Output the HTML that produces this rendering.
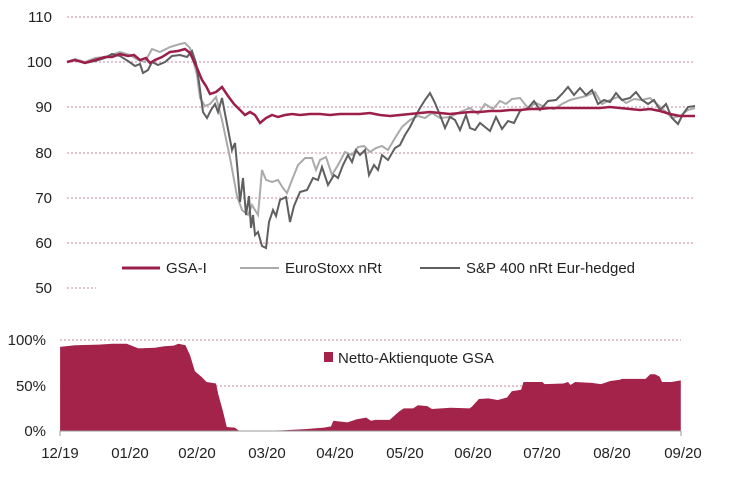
<!DOCTYPE html>
<html><head><meta charset="utf-8"><style>
body{margin:0;background:#fff;width:744px;height:478px;overflow:hidden;font-family:"Liberation Sans",Arial,sans-serif}
svg text{font-family:"Liberation Sans",Arial,sans-serif;font-size:15px;fill:#222}
</style></head><body>
<svg width="744" height="478" viewBox="0 0 744 478">
<g stroke="#c98a98" stroke-width="1" stroke-dasharray="2,2">
<line x1="67" y1="17" x2="695" y2="17"/><line x1="67" y1="62" x2="695" y2="62"/>
<line x1="67" y1="107" x2="695" y2="107"/><line x1="67" y1="153" x2="695" y2="153"/>
<line x1="67" y1="198" x2="695" y2="198"/><line x1="67" y1="243" x2="695" y2="243"/>
<line x1="67" y1="288" x2="96" y2="288"/>
<line x1="60" y1="340" x2="681" y2="340"/><line x1="60" y1="386" x2="681" y2="386"/>
</g>
<g text-anchor="end">
<text x="52" y="22">110</text><text x="52" y="67">100</text><text x="52" y="112">90</text>
<text x="52" y="158">80</text><text x="52" y="203">70</text><text x="52" y="248">60</text>
<text x="52" y="293">50</text>
<text x="46" y="345">100%</text><text x="46" y="391">50%</text><text x="46" y="436">0%</text>
</g>
<!-- area -->
<g transform="translate(0,327.6) scale(0.4695,0.3106)">
<polygon fill="#a3234a" points="128,333 128,62 160,57 210,55 240,52 270,52 295,67 330,65 350,60 370,58 380,52 395,57 405,90 415,140 430,160 440,175 460,180 465,215 475,270 483,320 500,322 510,333 530,333 600,331 650,327 690,322 705,318 710,300 740,305 760,295 780,290 790,300 800,297 830,297 850,270 860,260 880,260 890,250 910,253 920,262 960,258 1000,260 1005,255 1020,230 1040,228 1060,233 1080,225 1090,205 1110,200 1115,175 1155,175 1160,182 1200,180 1210,175 1215,185 1225,175 1260,178 1280,182 1300,172 1320,168 1325,165 1375,165 1385,150 1395,150 1405,158 1410,175 1430,175 1450,170 1450,333"/>
</g>
<line x1="60" y1="431" x2="681" y2="431" stroke="#999" stroke-width="1"/>
<g stroke="#999"><line x1="60" y1="431" x2="60" y2="436"/><line x1="681" y1="431" x2="681" y2="436"/></g>
<g text-anchor="middle">
<text x="60" y="458">12/19</text><text x="130" y="458">01/20</text><text x="197" y="458">02/20</text>
<text x="267" y="458">03/20</text><text x="335" y="458">04/20</text><text x="405" y="458">05/20</text>
<text x="473" y="458">06/20</text><text x="542" y="458">07/20</text><text x="612" y="458">08/20</text>
<text x="683" y="458">09/20</text>
</g>
<rect x="324" y="352" width="9" height="10" fill="#a3234a"/>
<text x="338" y="363">Netto-Aktienquote GSA</text>
<!-- lines -->
<polyline fill="none" stroke="#aaaaaa" stroke-width="2" points="67,62 75,59 85,62 95,58 105,57 120,52 130,55 138,60 145,62 152,49 160,52 170,47 180,44 185,43 190,48 197,75 200,98 205,106 210,104 216,97 222,120 230,158 237,196 242,210 248,215 252,205 258,215 262,170 266,180 272,182 278,180 283,188 287,193 292,180 298,165 305,158 312,158 316,170 320,160 326,157 332,175 338,165 345,152 352,155 358,147 364,146 370,152 376,148 382,146 388,150 395,138 402,127 410,120 418,116 425,118 432,113 440,118 450,117 460,112 470,108 478,114 485,104 493,109 500,101 506,104 512,99 520,98 528,108 536,103 545,107 554,109 562,104 570,100 578,98 586,96 595,92 602,104 610,100 618,97 626,103 634,99 642,100 650,98 658,105 666,112 672,118 680,116 688,110 695,108"/>
<polyline fill="none" stroke="#5f5f5f" stroke-width="2" points="67,62 75,60 85,63 95,61 105,58 112,54 120,56 128,61 135,66 140,64 143,73 148,70 152,62 158,65 165,62 172,56 180,55 187,57 192,51 196,63 199,82 203,112 207,118 211,110 215,104 218,112 222,98 227,124 232,150 235,143 238,175 240,202 243,178 246,215 249,196 251,228 253,215 255,235 258,232 262,246 266,248 269,222 273,210 276,216 280,200 286,197 290,222 294,206 300,192 307,190 313,178 318,180 322,167 328,185 334,175 338,178 343,165 348,155 352,162 356,150 360,155 365,150 369,175 374,165 378,170 382,155 388,160 395,148 400,145 405,135 410,127 415,117 420,108 425,100 430,93 435,103 440,115 445,128 450,117 455,120 460,130 466,115 470,128 475,130 480,123 485,127 490,131 496,117 502,129 508,121 514,123 520,111 528,108 534,101 540,110 548,101 556,100 562,94 568,87 574,95 580,88 586,95 592,90 598,104 604,100 610,102 616,93 622,100 630,98 636,92 642,100 648,104 654,100 660,110 666,104 672,118 678,124 683,114 688,107 695,106"/>
<polyline fill="none" stroke="#9b1f48" stroke-width="2.5" points="67,62 75,60 85,63 95,60 105,57 112,57 120,54 128,56 134,55 140,60 146,58 150,63 155,60 162,57 170,52 178,51 185,49 190,53 197,68 202,80 206,86 210,94 216,92 222,87 228,96 234,104 240,110 245,115 250,112 255,115 260,123 266,118 272,115 278,117 285,115 292,114 300,115 310,114 320,114 330,115 340,114 350,114 360,114 370,113 380,115 390,116 400,115 410,114 420,113 430,112 440,113 450,114 460,113 470,112 480,112 490,111 500,111 510,110 520,110 530,109 540,109 550,108 560,108 570,108 580,108 590,108 600,108 610,107 620,108 630,109 640,110 650,109 660,111 670,114 680,116 688,116 695,116"/>
<line x1="122" y1="268" x2="160" y2="268" stroke="#9b1f48" stroke-width="3"/>
<text x="166" y="273">GSA-I</text>
<line x1="240" y1="268" x2="279" y2="268" stroke="#aaaaaa" stroke-width="2"/>
<text x="285" y="273">EuroStoxx nRt</text>
<line x1="420" y1="268" x2="460" y2="268" stroke="#5f5f5f" stroke-width="2"/>
<text x="466" y="273">S&amp;P 400 nRt Eur-hedged</text>
</svg>
</body></html>
